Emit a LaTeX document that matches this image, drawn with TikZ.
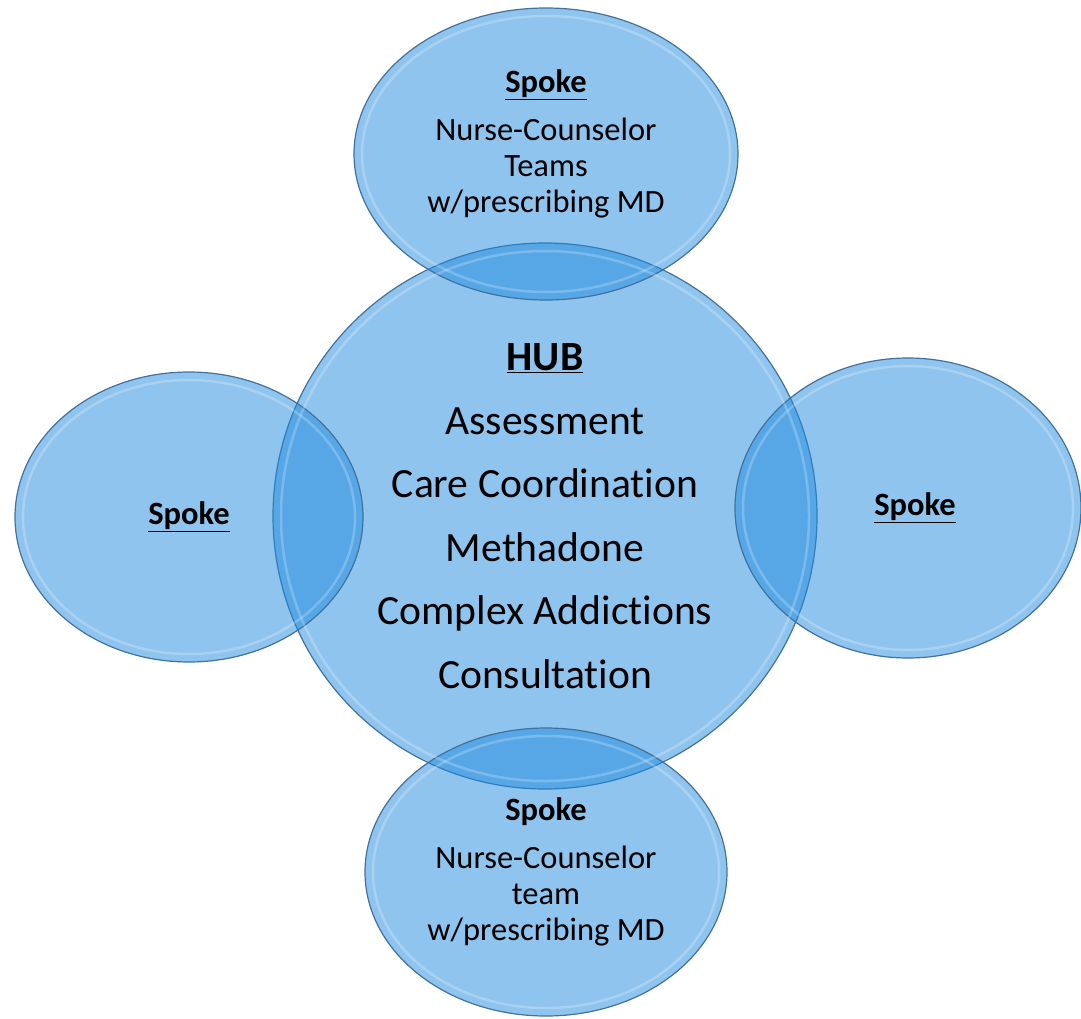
\documentclass[tikz,border=0pt]{standalone}
\usepackage{fontspec}
\setmainfont[Ligatures=NoCommon]{Carlito}
\usetikzlibrary{shapes.geometric}
\definecolor{bubblefill}{RGB}{32,138,222}
\definecolor{bubblerim}{RGB}{65,113,156}
\tikzset{
  bubble/.style={ellipse,draw=bubblerim,line width=1.2pt,fill=bubblefill,
                 fill opacity=0.5,inner sep=0pt},
  glint/.style={draw=white,line width=2.5pt,opacity=0.22},
  hubtext/.style={align=center,font=\fontsize{41.6}{63.5}\selectfont},
  spoketext/.style={align=center,font=\fontsize{32.5}{36}\selectfont},
}

\begin{document}
\begin{tikzpicture}[x=1pt,y=-1pt]
\useasboundingbox (0,0) rectangle (1081,1019);
% hub and spokes
\node[bubble,minimum width=544pt,minimum height=546pt] (hub) at (545,516) {};
\node[bubble,minimum width=384pt,minimum height=292pt] (north) at (546,154) {};
\node[bubble,minimum width=348pt,minimum height=290pt] (west) at (189,517) {};
\node[bubble,minimum width=346pt,minimum height=300pt] (east) at (908,508) {};
\node[bubble,minimum width=362pt,minimum height=288pt] (south) at (546,872) {};
% rim highlights
\draw[glint] (hub.center) ellipse [x radius=264, y radius=265];
\draw[glint] (north.center) ellipse [x radius=184, y radius=138];
\draw[glint] (west.center) ellipse [x radius=166, y radius=137];
\draw[glint] (east.center) ellipse [x radius=165, y radius=142];
\draw[glint] (south.center) ellipse [x radius=173, y radius=136];
% texts
\node[hubtext] (hubtxt) at (hub.center)
  {\textbf{\underline{HUB}}\\Assessment\\Care Coordination\\Methadone\\
   Complex Addictions\\Consultation};
\node[spoketext] (northtxt) at ([yshift=10pt]north.center)
  {\textbf{\underline{Spoke}}\\[12pt]Nurse-Counselor\\Teams\\w/prescribing MD};
\node[spoketext] (westtxt) at (west.center) {\textbf{\underline{Spoke}}};
\node[spoketext] (easttxt) at ([xshift=7pt]east.center) {\textbf{\underline{Spoke}}};
\node[spoketext] (southtxt) at (south.center)
  {\textbf{Spoke}\\[12pt]Nurse-Counselor\\team\\w/prescribing MD};
\end{tikzpicture}
\end{document}
